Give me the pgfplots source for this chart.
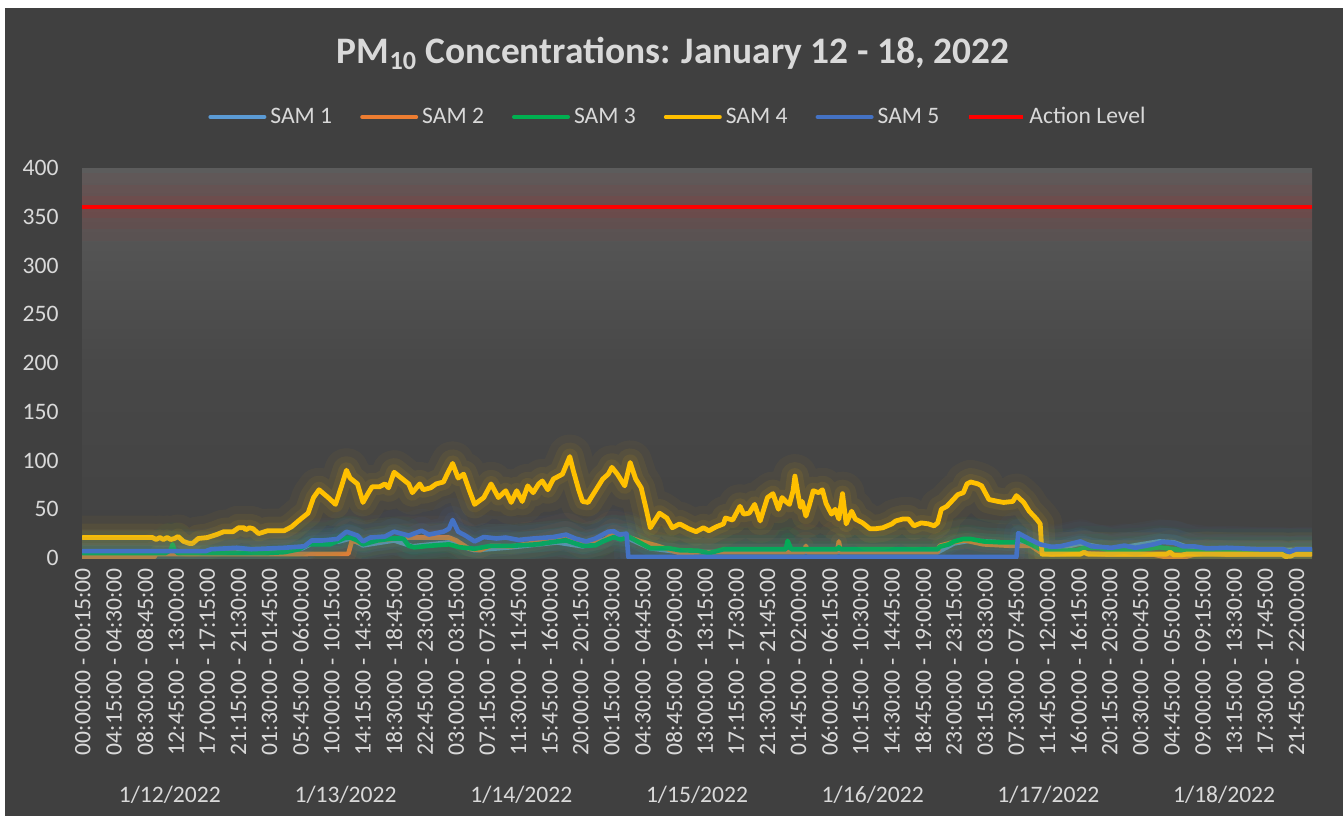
\documentclass[border=0pt]{standalone}
\usepackage{pgfplots}
\pgfplotsset{compat=1.18}
\usepackage{pgfplotstable}
\usepackage{fontspec}
\setmainfont{Carlito}
\definecolor{bgc}{RGB}{64,64,64}
\definecolor{txt}{RGB}{217,217,217}
\definecolor{s1}{RGB}{91,155,213}
\definecolor{s2}{RGB}{237,125,49}
\definecolor{s3}{RGB}{0,176,80}
\definecolor{s4}{RGB}{255,192,0}
\definecolor{s5}{RGB}{68,114,196}
\definecolor{pa1}{RGB}{92,92,92}
\definecolor{pa2}{RGB}{72,72,72}
\definecolor{pa3}{RGB}{66,66,66}

\pgfplotstableread{
x y
0 5
60 5
100 6
120 10
125 15
140 17
146 20
153 13
170 18
180 12
200 16
214 8
234 11
259 16
273 12
290 22
298 20
310 10
326 6
384 6
440 6
467 6
476 15
485 18
510 15
511 18
523 9
534 10
545 15
562 9
588 17
596 16
607 9
671 8
}\tabA

\pgfplotstableread{
x y
0 1
39 1
40 4
73 4
97 4
145 4.3
147 18
152 15
161 18
176 21
187 21
200 21
204 18
211 9.5
217 8
223 12.5
234 12
248 16
264 23.5
273 14
284 17
290 26
298 21.5
305 17
314 12.5
326 5
337 6
371 6
394 6
395 12.5
396 6
412 6
413 17
414 6
467 6
468 12.5
475 16
482 18
492 14
507 12.5
518 12.5
523 6
529 3.5
547 5
560 3.5
585 3.5
593 0.5
601 0.5
607 3.5
614 5
625 3.5
671 3.5
}\tabB

\pgfplotstableread{
x y
0 5
45 5
48 8
49 14
50 8
52 5
100 5
110 6
118 9
123 14
135 14
143 20.5
146 21
150 18
153 14
161 18
169 20
175 20
178 12.5
181 11
189 12.5
200 14
206 11
214 9.5
223 12.5
234 12.5
248 14
259 17
264 18
273 12.5
280 13
284 17
290 21.5
294 19
298 22
303 17
310 10
320 10
326 8
336 7.5
342 5
350 9
384 9
385 17.5
387 9
412 9
413 11
414 9
467 9
468 11.5
473 14
476 17
481 19.5
485 19.5
492 17
502 16
510 16
511 20
518 14
523 9
529 7
543 8
547 10.5
555 10.5
562 7.5
572 8
580 9
588 11
596 9
607 7
671 7
}\tabC

\pgfplotstableread{
x y
0 21
38 21
40 19
42 21
44 19
46 21
48 19
50 20
52 22
55 17
58 15
60 15
63 20
68 21
73 24
77 27
82 27
85 31
88 31
89 29
91 31
93 30
96 25
101 28
110 28
114 32
119 40
123 46
126 62
129 70
134 62
138 55
141 72
144 90
146 82
150 76
153 57
156 67
158 73
162 73
165 76
167 72
170 88
174 82
178 76
180 67
184 76
186 70
190 72
193 76
197 78
199 86
202 97
205 82
208 86
211 70
214 55
219 62
223 76
227 62
231 69
234 57
237 69
240 58
243 74
246 67
249 76
251 79
254 70
257 81
262 86
266 104
268 89
271 69
273 58
276 57
280 69
284 81
287 86
289 93
292 86
294 80
296 74
299 98
302 81
305 72
308 48
310 31
313 40
315 46
319 41
322 31
326 35
331 30
335 27
339 31
342 28
346 32
350 35
351 41
355 39
359 53
361 45
364 46
367 55
370 38
374 62
377 66
380 50
382 62
384 58
386 55
388 69
389 84
391 62
392 52
393 58
395 43
397 55
399 69
402 67
404 70
406 56
409 45
411 50
413 40
415 66
417 35
420 48
422 40
426 36
430 30
433 30
437 31
442 35
444 38
448 40
451 40
454 33
458 36
462 35
465 33
467 36
469 50
472 53
474 57
478 65
481 67
483 76
485 78
489 76
491 74
495 60
500 58
503 57
508 58
510 64
514 57
517 48
521 40
523 35
524 4
545 4
547 6
549 4
592 4
594 6
596 3
600 3
603 4
655 4
657 1.5
660 2
662 4
671 4
}\tabD

\pgfplotstableread{
x y
0 7
67 7
70 9
84 10.5
92 9
110 10.5
121 12
125 18
131 18
139 19.5
144 27
150 23
153 17
157 21
165 22
170 27
178 23
185 28
189 24
193 25.5
197 27
200 30
202 39
205 27
209 23
214 17
219 21.5
226 20
231 21
238 18.5
246 20
257 21.5
264 24
269 20
275 17
280 20
287 27
290 27.5
293 24
297 25
298 1
510 1
511 25.5
518 18.5
523 14
529 11.5
534 12
545 17
551 12
562 10.5
569 12.7
575 10.5
585 14
590 16.5
596 15.6
601 12
607 12
614 9.8
625 10.5
643 9
656 9
659 6
663 9
671 9
}\tabE

\pgfplotstableread{
x y
-0.5 360
671.5 360
}\tabF

\begin{document}
\begin{tikzpicture}
\fill[white] (0,0) rectangle (671.5pt,408pt);
\fill[bgc] (2.5pt,0) rectangle (671.5pt,404pt);
\path[use as bounding box] (0,0) rectangle (671.5pt,408pt);
\begin{axis}[
  at={(41pt,129pt)}, anchor=south west,
  scale only axis, width=615pt, height=195pt,
  xmin=-0.5, xmax=671.5, ymin=0, ymax=400,
  ytick={0,50,...,400},
  xtick={0,17,...,663},
  xticklabels={00:00:00 - 00:15:00,04:15:00 - 04:30:00,08:30:00 - 08:45:00,12:45:00 - 13:00:00,17:00:00 - 17:15:00,21:15:00 - 21:30:00,01:30:00 - 01:45:00,05:45:00 - 06:00:00,10:00:00 - 10:15:00,14:15:00 - 14:30:00,18:30:00 - 18:45:00,22:45:00 - 23:00:00,03:00:00 - 03:15:00,07:15:00 - 07:30:00,11:30:00 - 11:45:00,15:45:00 - 16:00:00,20:00:00 - 20:15:00,00:15:00 - 00:30:00,04:30:00 - 04:45:00,08:45:00 - 09:00:00,13:00:00 - 13:15:00,17:15:00 - 17:30:00,21:30:00 - 21:45:00,01:45:00 - 02:00:00,06:00:00 - 06:15:00,10:15:00 - 10:30:00,14:30:00 - 14:45:00,18:45:00 - 19:00:00,23:00:00 - 23:15:00,03:15:00 - 03:30:00,07:30:00 - 07:45:00,11:45:00 - 12:00:00,16:00:00 - 16:15:00,20:15:00 - 20:30:00,00:30:00 - 00:45:00,04:45:00 - 05:00:00,09:00:00 - 09:15:00,13:15:00 - 13:30:00,17:30:00 - 17:45:00,21:45:00 - 22:00:00},
  axis line style={draw=none},
  major tick length=0pt,
  tick style={draw=none},
  axis background/.style={shade, top color=pa1, bottom color=pa3, middle color=pa2},
  ticklabel style={font=\fontsize{11.8}{14}\selectfont, text=txt},
  yticklabel style={anchor=east, inner sep=0pt, xshift=-11.5pt},
  xticklabel style={rotate=90, anchor=east, inner xsep=5pt, inner ysep=0pt},
  /pgf/number format/assume math mode=true,
  legend columns=6,
  legend style={at={(0.4837,1.1308)}, anchor=center, draw=none, fill=none,
    font=\fontsize{11.8}{14}\selectfont, text=txt, nodes={inner sep=0pt},
    /tikz/every odd column/.append style={column sep=2pt},
    /tikz/every even column/.append style={column sep=14pt}},
  legend image code/.code={\draw[#1, line width=2pt] (0pt,0pt) -- (27pt,0pt);},
  every axis plot/.append style={line join=round, line cap=round},
  glowa/.style={forget plot, draw=#1, line width=22pt, draw opacity=0.04},
  glowb/.style={forget plot, draw=#1, line width=14pt, draw opacity=0.06},
  glowc/.style={forget plot, draw=#1, line width=8pt, draw opacity=0.08},
]
% SAM 1
\addplot[glowa=s1] table[x=x,y=y] {\tabA};
\addplot[glowb=s1] table[x=x,y=y] {\tabA};
\addplot[glowc=s1] table[x=x,y=y] {\tabA};
\addplot[s1, line width=2.3pt] table[x=x,y=y] {\tabA};
\addlegendentry{SAM 1}
% SAM 2
\addplot[glowa=s2] table[x=x,y=y] {\tabB};
\addplot[glowb=s2] table[x=x,y=y] {\tabB};
\addplot[glowc=s2] table[x=x,y=y] {\tabB};
\addplot[s2, line width=2.3pt] table[x=x,y=y] {\tabB};
\addlegendentry{SAM 2}
% SAM 3
\addplot[glowa=s3] table[x=x,y=y] {\tabC};
\addplot[glowb=s3] table[x=x,y=y] {\tabC};
\addplot[glowc=s3] table[x=x,y=y] {\tabC};
\addplot[s3, line width=2.3pt] table[x=x,y=y] {\tabC};
\addlegendentry{SAM 3}
% SAM 4
\addplot[glowa=s4] table[x=x,y=y] {\tabD};
\addplot[glowb=s4] table[x=x,y=y] {\tabD};
\addplot[glowc=s4] table[x=x,y=y] {\tabD};
\addplot[s4, line width=2.4pt] table[x=x,y=y] {\tabD};
\addlegendentry{SAM 4}
% SAM 5
\addplot[glowa=s5] table[x=x,y=y] {\tabE};
\addplot[glowb=s5] table[x=x,y=y] {\tabE};
\addplot[glowc=s5] table[x=x,y=y] {\tabE};
\addplot[s5, line width=2.3pt] table[x=x,y=y] {\tabE};
\addlegendentry{SAM 5}
% Action level
\addplot[forget plot, draw=red, line width=34pt, draw opacity=0.03, line cap=butt] table[x=x,y=y] {\tabF};
\addplot[forget plot, draw=red, line width=22pt, draw opacity=0.04, line cap=butt] table[x=x,y=y] {\tabF};
\addplot[forget plot, draw=red, line width=11pt, draw opacity=0.06, line cap=butt] table[x=x,y=y] {\tabF};
\addplot[red, line width=2pt, line cap=butt] table[x=x,y=y] {\tabF};
\addlegendentry{Action Level}
\coordinate (d0) at (axis cs:47.5,-243);
\coordinate (d1) at (axis cs:143.5,-243);
\coordinate (d2) at (axis cs:239.5,-243);
\coordinate (d3) at (axis cs:335.5,-243);
\coordinate (d4) at (axis cs:431.5,-243);
\coordinate (d5) at (axis cs:527.5,-243);
\coordinate (d6) at (axis cs:623.5,-243);
\end{axis}
\begin{scope}[every node/.style={font=\fontsize{11.8}{14}\selectfont, text=txt, inner sep=0pt}]
\node at (d0) {1/12/2022};
\node at (d1) {1/13/2022};
\node at (d2) {1/14/2022};
\node at (d3) {1/15/2022};
\node at (d4) {1/16/2022};
\node at (d5) {1/17/2022};
\node at (d6) {1/18/2022};
\end{scope}
\node[anchor=base, font=\bfseries\fontsize{18.7}{22}\selectfont, text=txt] at (336.5pt,376pt) {PM\textsubscript{10} Concentrations: January 12 - 18, 2022};
\end{tikzpicture}
\end{document}
